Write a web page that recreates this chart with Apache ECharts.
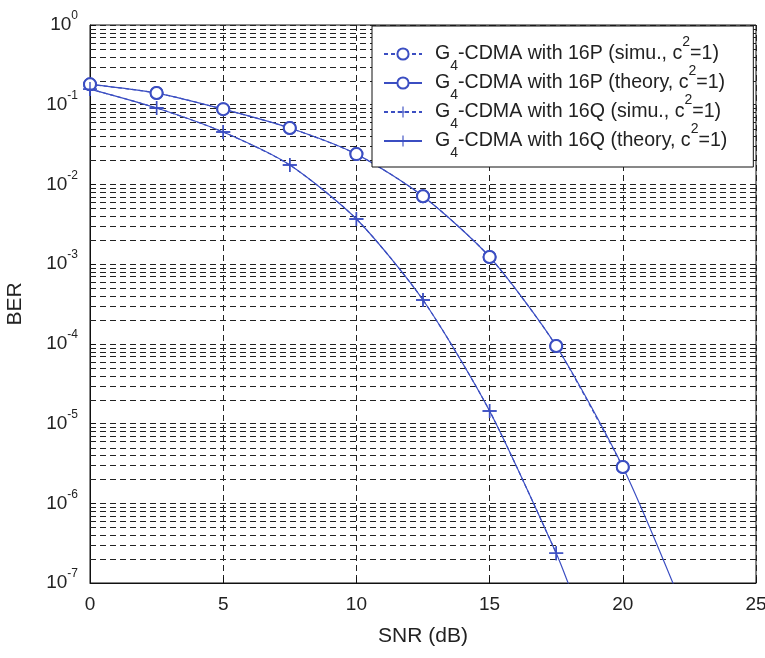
<!DOCTYPE html>
<html><head><meta charset="utf-8">
<script src="https://cdn.jsdelivr.net/npm/echarts@6/dist/echarts.min.js"></script>
<style>html,body{margin:0;padding:0;background:#fff}#c{width:765px;height:658px}</style>
</head><body><div id="c"></div>
<script>
// ---- data ----
const snr16P = [0, 2.5, 5, 7.5, 10, 12.5, 15, 17.5, 20];
const ber16P = [0.18, 0.14, 0.088, 0.051, 0.024, 0.0071, 0.00123, 9.4e-5, 2.85e-6];
const snr16Q = [0, 2.5, 5, 7.5, 10, 12.5, 15, 17.5];
const ber16Q = [0.157, 0.091, 0.0454, 0.0175, 0.00368, 3.55e-4, 1.44e-5, 2.37e-7];
const tailSnr16P = 22, tailBer16P = 8e-8;   // theory curves leave the axes here
const tailSnr16Q = 18, tailBer16Q = 9e-8;
const xTicks = [0, 5, 10, 15, 20, 25];
const decades = [-7, -6, -5, -4, -3, -2, -1, 0];
const minorMultipliers = [2, 3, 4, 5, 6, 7, 8, 9];
const seriesNames = [
  'G4-CDMA with 16P (simu., c2=1)',
  'G4-CDMA with 16P (theory, c2=1)',
  'G4-CDMA with 16Q (simu., c2=1)',
  'G4-CDMA with 16Q (theory, c2=1)'
];
const legendRich = {
  'G4-CDMA with 16P (simu., c2=1)': '{g|G}{sub|4}{t|-CDMA with 16P (simu., c}{sup|2}{t|=1)}',
  'G4-CDMA with 16P (theory, c2=1)': '{g|G}{sub|4}{t|-CDMA with 16P (theory, c}{sup|2}{t|=1)}',
  'G4-CDMA with 16Q (simu., c2=1)': '{g|G}{sub|4}{t|-CDMA with 16Q (simu., c}{sup|2}{t|=1)}',
  'G4-CDMA with 16Q (theory, c2=1)': '{g|G}{sub|4}{t|-CDMA with 16Q (theory, c}{sup|2}{t|=1)}'
};

const BLUE = '#3b4ec2';
const FONT = 'Liberation Sans';
const plusPath = 'path://M-1,-10 h2 v20 h-2 z M-10,-1 h20 v2 h-20 z';
const minorVals = [];
decades.slice(0, -1).forEach(d => minorMultipliers.forEach(m => minorVals.push(m * Math.pow(10, d))));

const pairs = (xs, ys) => xs.map((x, i) => [x, ys[i]]);
const theory16P = pairs(snr16P, ber16P).concat([{ value: [tailSnr16P, tailBer16P], symbol: 'none' }]);
const theory16Q = pairs(snr16Q, ber16Q).concat([{ value: [tailSnr16Q, tailBer16Q], symbol: 'none' }]);

const chart = echarts.init(document.getElementById('c'), null, { renderer: 'canvas' });
const gridDash = { type: [6, 4], color: '#222', width: 1 };
chart.setOption({
  animation: false,
  backgroundColor: '#fff',
  grid: { left: 90, top: 25, right: 9, bottom: 75, outerBoundsMode: 'none', containLabel: false,
          show: true, borderColor: '#111', borderWidth: 1, backgroundColor: 'transparent' },
  xAxis: {
    type: 'value', min: xTicks[0], max: xTicks[xTicks.length - 1], interval: 5,
    name: 'SNR (dB)', nameLocation: 'middle', nameGap: 43, nameMoveOverlap: false,
    nameTextStyle: { fontFamily: FONT, fontSize: 21, color: '#222' },
    axisLine: { lineStyle: { color: '#111', width: 1 } },
    axisTick: { inside: true, length: 6, lineStyle: { color: '#111' } },
    axisLabel: { fontFamily: FONT, fontSize: 19, color: '#222', margin: 12 },
    splitLine: { show: true, lineStyle: gridDash }
  },
  yAxis: {
    type: 'log', logBase: 10, min: 1e-7, max: 1,
    name: 'BER', nameLocation: 'middle', nameGap: 64, nameRotate: 90, nameMoveOverlap: false,
    nameTextStyle: { fontFamily: FONT, fontSize: 21, color: '#222' },
    axisLine: { lineStyle: { color: '#111', width: 1 } },
    axisTick: { inside: true, length: 6, lineStyle: { color: '#111' } },
    axisLabel: {
      margin: 12,
      formatter: v => '{b|10}{s|' + Math.round(Math.log10(v)) + '}',
      rich: {
        b: { fontFamily: FONT, fontSize: 19, color: '#222', lineHeight: 30 },
        s: { fontFamily: FONT, fontSize: 12, color: '#222', lineHeight: 14, verticalAlign: 'top' }
      }
    },
    splitLine: { show: true, lineStyle: gridDash }
  },
  legend: {
    data: seriesNames, z: 20,
    orient: 'vertical', left: 372, top: 26,
    backgroundColor: '#fff', borderColor: '#111', borderWidth: 1, borderRadius: 0,
    padding: [9, 26, 7, 11], itemGap: -9, itemWidth: 38, itemHeight: 14,
    formatter: n => legendRich[n],
    textStyle: {
      color: '#222',
      rich: {
        g: { fontFamily: FONT, fontSize: 19.6, color: '#222', lineHeight: 38, padding: [0, 0, 0, 8] },
        t: { fontFamily: FONT, fontSize: 19.6, color: '#222', lineHeight: 38 },
        sub: { fontFamily: FONT, fontSize: 14, color: '#222', lineHeight: 14, verticalAlign: 'bottom' },
        sup: { fontFamily: FONT, fontSize: 14, color: '#222', lineHeight: 26, verticalAlign: 'top' }
      }
    }
  },
  series: [
    {
      name: 'minorGrid', type: 'custom', silent: true, z: 1, clip: true,
      data: minorVals.map(v => [xTicks[0], v]),
      encode: { x: 0, y: 1 },
      renderItem: (params, api) => {
        const v = api.value(1);
        const p1 = api.coord([xTicks[0], v]);
        const p2 = api.coord([xTicks[xTicks.length - 1], v]);
        const y = Math.round(p1[1]) + 0.5;
        return { type: 'line', shape: { x1: p1[0], y1: y, x2: p2[0], y2: y },
                 style: { stroke: '#222', lineWidth: 1, lineDash: [6, 4] } };
      }
    },
    {
      name: seriesNames[0], type: 'line', z: 4, data: pairs(snr16P, ber16P), smooth: 0.25,
      symbol: 'emptyCircle', symbolSize: 12, color: BLUE,
      itemStyle: { color: BLUE, borderColor: BLUE, borderWidth: 1.3 },
      lineStyle: { color: BLUE, width: 1.2, type: [4, 3] }
    },
    {
      name: seriesNames[1], type: 'line', z: 3, data: theory16P, smooth: 0.25,
      symbol: 'emptyCircle', symbolSize: 12, color: BLUE,
      itemStyle: { color: BLUE, borderColor: BLUE, borderWidth: 1.3 },
      lineStyle: { color: BLUE, width: 1.2, type: 'solid' }
    },
    {
      name: seriesNames[2], type: 'line', z: 4, data: pairs(snr16Q, ber16Q), smooth: 0.25,
      symbol: plusPath, symbolSize: 14, color: BLUE,
      itemStyle: { color: BLUE },
      lineStyle: { color: BLUE, width: 1.2, type: [4, 3] }
    },
    {
      name: seriesNames[3], type: 'line', z: 3, data: theory16Q, smooth: 0.25,
      symbol: plusPath, symbolSize: 14, color: BLUE,
      itemStyle: { color: BLUE },
      lineStyle: { color: BLUE, width: 1.2, type: 'solid' }
    }
  ]
});
</script></body></html>
